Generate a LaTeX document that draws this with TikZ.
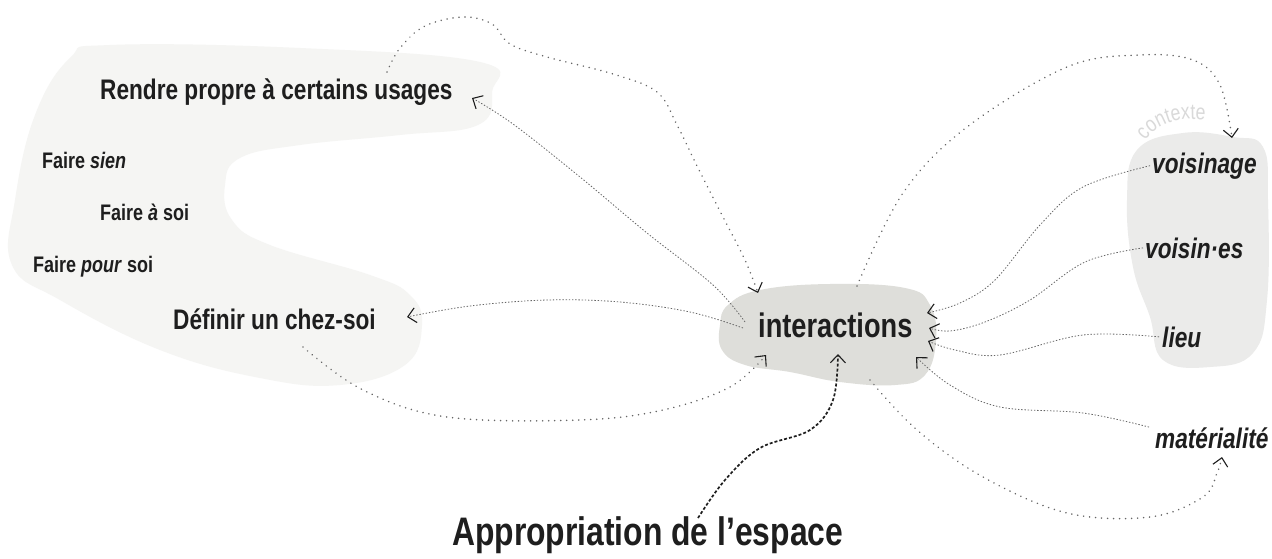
\documentclass[tikz,border=0pt]{standalone}
\usepackage{fontspec}
\setmainfont{Liberation Sans}[FakeStretch=0.8]
\usetikzlibrary{arrows.meta,decorations.text}
\definecolor{blobA}{HTML}{F5F5F3}
\definecolor{blobB}{HTML}{DEDEDA}
\definecolor{blobC}{HTML}{EBEBEA}
\definecolor{ink}{HTML}{1E1E1E}
\definecolor{dotc}{HTML}{666666}
\definecolor{ctxc}{HTML}{D9D9D9}
\begin{document}
\begin{tikzpicture}[x=1pt,y=-1pt,
  lbl/.style={inner sep=0pt, anchor=base west, text=ink},
  fine/.style={draw=dotc, line width=0.8pt, dash pattern=on 1.4pt off 1.8pt},
  coarse/.style={draw=dotc, line width=1.7pt, dash pattern=on 0.01pt off 6pt, line cap=round},
  heavy/.style={draw=ink, line width=1.7pt, dash pattern=on 3pt off 2pt},
  tip/.style={-{Straight Barb[length=8pt,width=15pt,line width=1.1pt,color=ink]}},
  big/.style={font=\bfseries\fontsize{28.3}{32}\selectfont},
  small/.style={font=\bfseries\fontsize{22.5}{26}\selectfont},
  ctx/.style={font=\bfseries\itshape\fontsize{28.3}{32}\selectfont},
]
\useasboundingbox (0,0) rectangle (1272,559);
\fill[white] (0,0) rectangle (1272,559);
% blobs
\fill[blobA] plot[smooth cycle, tension=0.7] coordinates {(110,45) (300,48) (480,62) (492,92) (478,125) (400,135) (300,145) (240,158) (225,185) (232,220) (270,245) (370,275) (410,295) (422,325) (405,365) (340,385) (260,378) (160,350) (60,300) (12,265) (15,200) (35,115) (70,58)};
\fill[blobB] plot[smooth cycle, tension=0.7] coordinates {(728,305) (760,290) (830,284) (905,288) (930,305) (936,340) (925,375) (895,385) (840,382) (790,372) (745,365) (722,350) (720,325)};
\fill[blobC] plot[smooth cycle, tension=0.7] coordinates {(1183,133) (1233,137) (1263,147) (1268,200) (1267,300) (1253,353) (1210,367) (1163,360) (1150,317) (1133,267) (1127,200) (1137,150)};
% labels
\node[lbl, big] (rendre) at (100,100) {Rendre propre à certains usages};
\node[lbl, small] (sien) at (42,168) {Faire \textit{sien}};
\node[lbl, small] (asoi) at (100,220) {Faire \textit{à} soi};
\node[lbl, small] (poursoi) at (33,272) {Faire \textit{pour} soi};
\node[lbl, big] (definir) at (173,329) {Définir un chez-soi};
\node[lbl, font=\bfseries\fontsize{34}{38}\selectfont] (inter) at (758,337) {interactions};
\node[lbl, ctx] (voisinage) at (1152,173) {voisinage};
\node[lbl, ctx] (voisines) at (1145,258) {voisin·es};
\node[lbl, ctx] (lieu) at (1162,347) {lieu};
\node[lbl, ctx] (mat) at (1155,448) {matérialité};
\node[lbl, font=\bfseries\fontsize{39.8}{44}\selectfont] (approp) at (452,545) {Appropriation de l’espace};
\begingroup
\fontsize{22}{22}\selectfont
\path[decorate, decoration={text along path, text align=center,
  text color=ctxc, text={contexte}}]
  (1139,154) .. controls (1145,130) and (1172,112) .. (1220,122);
\endgroup
% connector end points
\coordinate (rendreTop) at (387,72);
\coordinate (rendreE) at (472,98);
\coordinate (definirE) at (407,317);
\coordinate (definirS) at (303,347);
\coordinate (interNW) at (758,293);
\coordinate (interW1) at (745,322);
\coordinate (interW2) at (743,328);
\coordinate (interSW) at (766,355);
\coordinate (interN) at (857,286);
\coordinate (interE1) at (927,313);
\coordinate (interE2) at (929,328);
\coordinate (interE3) at (928,341);
\coordinate (interSE) at (916,357);
\coordinate (interS) at (870,380);
\coordinate (interS2) at (838,354);
\coordinate (voisN) at (1232,138);
\coordinate (matS) at (1222,457);
\coordinate (appropN) at (698,518);
% connectors
\draw[coarse, tip] plot[smooth, tension=0.6] coordinates {(rendreTop) (400,48) (425,26) (463,17) (492,24) (510,44) (547,57) (613,74) (657,92) (677,125) (698,168) (723,217) (745,260) (interNW)};
\draw[fine, tip] plot[smooth, tension=0.6] coordinates {(interW1) (713,285) (647,233) (580,177) (513,124) (rendreE)};
\draw[fine, tip] plot[smooth, tension=0.6] coordinates {(interW2) (690,312) (620,302) (547,300) (470,306) (definirE)};
\draw[coarse, tip] plot[smooth, tension=0.6] coordinates {(definirS) (363,390) (447,417) (580,420) (663,410) (730,387) (interSW)};
\draw[coarse, tip] plot[smooth, tension=0.6] coordinates {(interN) (903,193) (967,127) (1067,67) (1140,55) (1193,60) (1220,85) (voisN)};
\draw[fine, tip] plot[smooth, tension=0.6] coordinates {([xshift=-2pt]voisinage.west) (1083,187) (1040,225) (995,280) (960,303) (interE1)};
\draw[fine, tip] plot[smooth, tension=0.6] coordinates {([xshift=-2pt]voisines.west) (1085,262) (1030,300) (985,322) (950,331) (interE2)};
\draw[fine, tip] plot[smooth, tension=0.6] coordinates {([xshift=-3pt]lieu.west) (1083,335) (1000,355) (955,350) (interE3)};
\draw[fine, tip] plot[smooth, tension=0.6] coordinates {([xshift=-6pt]mat.north west) (1083,413) (1000,407) (950,385) (interSE)};
\draw[coarse, tip] plot[smooth, tension=0.6] coordinates {(interS) (917,430) (983,477) (1067,513) (1150,517) (1203,497) (1217,473) (matS)};
\draw[heavy, tip] plot[smooth, tension=0.6] coordinates {(appropN) (725,480) (760,448) (810,430) (833,400) (interS2)};
\end{tikzpicture}
\end{document}
